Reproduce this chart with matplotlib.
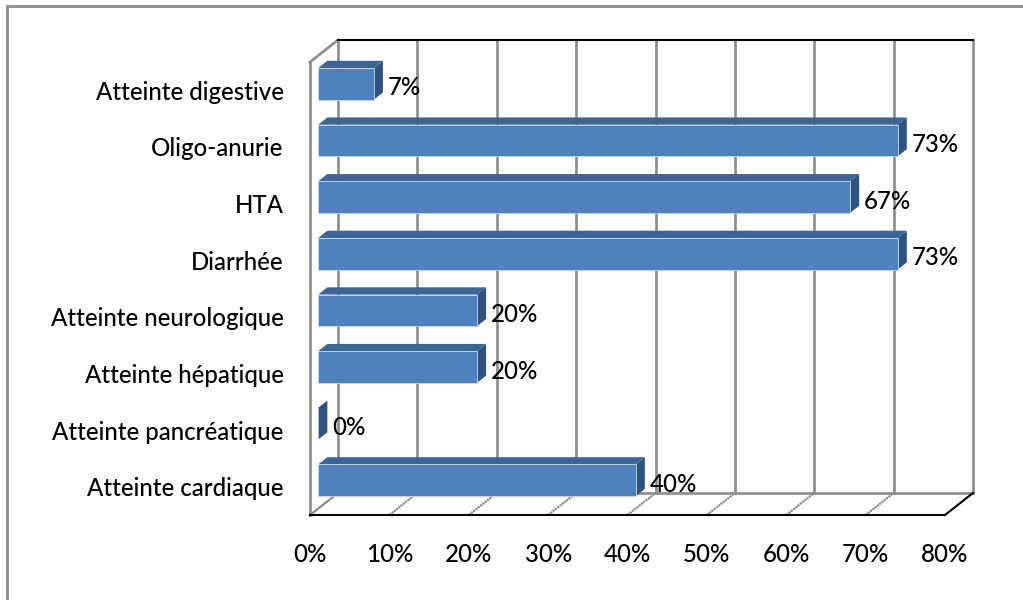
import matplotlib
matplotlib.use("Agg")
import matplotlib.pyplot as plt
from matplotlib.patches import Polygon, Rectangle
from matplotlib.lines import Line2D
import matplotlib.transforms as mtransforms

categories = ["Atteinte cardiaque", "Atteinte pancréatique", "Atteinte hépatique",
              "Atteinte neurologique", "Diarrhée", "HTA", "Oligo-anurie",
              "Atteinte digestive"]
values = [40, 0, 20, 20, 73, 67, 73, 7]
xticks = [0, 10, 20, 30, 40, 50, 60, 70, 80]
xticklabels = ["0%", "10%", "20%", "30%", "40%", "50%", "60%", "70%", "80%"]

W, H = 1023, 600
FONT = "Lato"
FS = 17.3
FW = "medium"

fig = plt.figure(figsize=(W / 100, H / 100), dpi=100)
fig.patch.set_facecolor("white")

# outer chart frame
fig.add_artist(Rectangle((7 / W, -0.05), 1.1, 1 - 6 / H + 0.05, transform=fig.transFigure,
                         fill=False, edgecolor="#8c8c8c", lw=2.0))

# front plane of the plot area
L, R, B, T = 310, 945, 515, 62
ax = fig.add_axes([L / W, (H - B) / H, (R - L) / W, (B - T) / H])
ax.set_xlim(0, 80)
ax.set_ylim(-0.5, len(categories) - 0.5)
ax.set_facecolor("none")

# depth direction (one full unit of depth), in data units
px_x = (R - L) / 80.0
px_y = (B - T) / len(categories)
DX = 28 / px_x
DY = 22 / px_y


def p(x, y, d):
    return (x + d * DX, y + d * DY)


GRID = "#8c8c8c"
y0, y1 = -0.5, len(categories) - 0.5

# back wall gridlines
for t in xticks:
    ax.add_line(Line2D(*zip(p(t, y0, 1), p(t, y1, 1)), color=GRID, lw=1.9,
                       clip_on=False, zorder=1))
# floor gridlines
for t in xticks[1:-1]:
    ax.add_line(Line2D(*zip(p(t, y0, 0), p(t, y0, 1)), color=GRID, lw=1.6,
                       clip_on=False, zorder=1, ls=(0, (1, 0.3))))
# back floor edge
ax.add_line(Line2D(*zip(p(0, y0, 1), p(80, y0, 1)), color=GRID, lw=1.9,
                   clip_on=False, zorder=1))
# left wall
ax.add_line(Line2D(*zip(p(0, y0, 0), p(0, y1, 0)), color=GRID, lw=1.9,
                   clip_on=False, zorder=1))
ax.add_line(Line2D(*zip(p(0, y1, 0), p(0, y1, 1)), color=GRID, lw=1.9,
                   clip_on=False, zorder=1))
ax.add_line(Line2D(*zip(p(0, y0, 0), p(0, y0, 1)), color=GRID, lw=1.6,
                   clip_on=False, zorder=1))
# top edge of back wall
ax.add_line(Line2D(*zip(p(0, y1, 1), p(80, y1, 1)), color="black", lw=1.5,
                   clip_on=False, zorder=1))
# front floor edge and right floor edge
ax.add_line(Line2D(*zip(p(0, y0, 0), p(80, y0, 0)), color="black", lw=1.5,
                   clip_on=False, zorder=1))
ax.add_line(Line2D(*zip(p(80, y0, 0), p(80, y0, 1)), color="black", lw=1.5,
                   clip_on=False, zorder=1))

# 3D bars
FRONT = "#4f81bd"
TOP = "#3d6594"
SIDE = "#2f527f"
d0, d1 = 0.29, 0.62
hh = 0.28
off = mtransforms.offset_copy(ax.transData, fig=fig, x=5, y=-4, units="dots")
for i, v in enumerate(values):
    yb, yt = i - hh, i + hh
    front = [p(0, yb, d0), p(v, yb, d0), p(v, yt, d0), p(0, yt, d0)]
    top = [p(0, yt, d0), p(v, yt, d0), p(v, yt, d1), p(0, yt, d1)]
    side = [p(v, yb, d0), p(v, yb, d1), p(v, yt, d1), p(v, yt, d0)]
    ax.add_patch(Polygon(top, closed=True, facecolor=TOP, edgecolor="none",
                         clip_on=False, zorder=3))
    ax.add_patch(Polygon(side, closed=True, facecolor=SIDE, edgecolor="none",
                         clip_on=False, zorder=3))
    ax.add_patch(Polygon(front, closed=True, facecolor=FRONT, edgecolor="#c6d6ea",
                         lw=0.6, clip_on=False, zorder=4))
    lx = p(v, i, d1)[0]
    ly = p(v, i, d0)[1]
    ax.text(lx, ly, f"{v}%", transform=off, ha="left", va="center",
            fontsize=FS, family=FONT, weight=FW, color="black", zorder=5,
            clip_on=False)

ax.set_yticks(range(len(categories)))
ax.set_yticklabels(categories, fontsize=FS, family=FONT, weight=FW)
ax.set_xticks(xticks)
ax.set_xticklabels(xticklabels, fontsize=FS, family=FONT, weight=FW)
ax.tick_params(axis="y", length=0, pad=19)
ax.tick_params(axis="x", length=0, pad=20)
for s in ax.spines.values():
    s.set_visible(False)

fig.savefig("out.png", dpi=100, facecolor="white")
